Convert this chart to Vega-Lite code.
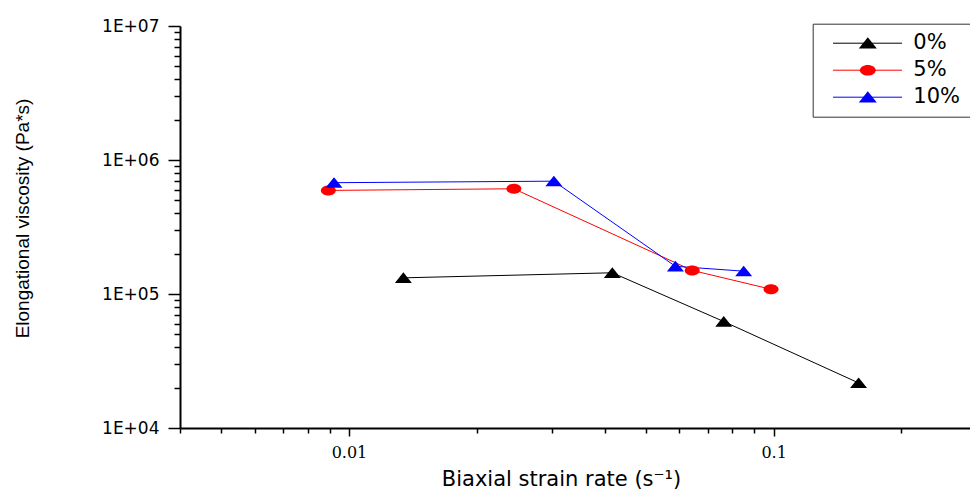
{
  "$schema": "https://vega.github.io/schema/vega-lite/v6.json",
  "width": 790,
  "height": 402,
  "autosize": "none",
  "padding": {"left": 180, "top": 26, "right": 0, "bottom": 62},
  "background": "white",
  "config": {"view": {"stroke": null}, "font": "Liberation Sans"},
  "data": {
    "values": [
      {"series": "0%", "rate": 0.01343, "viscosity": 132000},
      {"series": "0%", "rate": 0.0417, "viscosity": 144000},
      {"series": "0%", "rate": 0.0763, "viscosity": 62300},
      {"series": "0%", "rate": 0.1585, "viscosity": 21700},
      {"series": "5%", "rate": 0.00894, "viscosity": 593000},
      {"series": "5%", "rate": 0.02445, "viscosity": 610000},
      {"series": "5%", "rate": 0.0643, "viscosity": 150000},
      {"series": "5%", "rate": 0.0986, "viscosity": 108500},
      {"series": "10%", "rate": 0.00922, "viscosity": 677000},
      {"series": "10%", "rate": 0.03037, "viscosity": 695000},
      {"series": "10%", "rate": 0.0587, "viscosity": 161000},
      {"series": "10%", "rate": 0.085, "viscosity": 148000}
    ]
  },
  "encoding": {
    "x": {
      "field": "rate",
      "type": "quantitative",
      "scale": {"type": "log", "domain": [0.004, 0.29], "nice": false},
      "axis": {
        "values": [0.004, 0.005, 0.006, 0.007, 0.008, 0.009, 0.01, 0.02, 0.03, 0.04, 0.05, 0.06, 0.07, 0.08, 0.09, 0.1, 0.2],
        "labelExpr": "datum.value === 0.01 ? '0.01' : datum.value === 0.1 ? '0.1' : ''",
        "labelFont": "DejaVu Serif",
        "labelFontSize": 16,
        "labelColor": "black",
        "labelPadding": 8,
        "labelOverlap": false,
        "labelFlush": false,
        "labelBound": false,
        "tickSize": {"condition": {"test": "datum.value === 0.01 || datum.value === 0.1", "value": 8}, "value": 5},
        "tickColor": "black",
        "tickWidth": 1.5,
        "domainColor": "black",
        "domainWidth": 2,
        "grid": false,
        "title": "Biaxial strain rate (s⁻¹)",
        "titleFont": "DejaVu Sans",
        "titleFontSize": 21,
        "titleFontWeight": "normal",
        "titleColor": "black",
        "titleX": 381,
        "titleY": 57,
        "titleAlign": "center",
        "titleBaseline": "alphabetic"
      }
    },
    "y": {
      "field": "viscosity",
      "type": "quantitative",
      "scale": {"type": "log", "domain": [10000, 10000000], "nice": false},
      "axis": {
        "values": [10000, 20000, 30000, 40000, 50000, 60000, 70000, 80000, 90000, 100000, 200000, 300000, 400000, 500000, 600000, 700000, 800000, 900000, 1000000, 2000000, 3000000, 4000000, 5000000, 6000000, 7000000, 8000000, 9000000, 10000000],
        "labelExpr": "indexof([10000, 100000, 1000000, 10000000], datum.value) >= 0 ? '1E+0' + round(log(datum.value) / LN10) : ''",
        "labelFont": "DejaVu Sans",
        "labelFontSize": 17,
        "labelColor": "black",
        "labelPadding": 9,
        "labelOverlap": false,
        "labelFlush": false,
        "labelBound": false,
        "tickSize": {"condition": {"test": "indexof([10000, 100000, 1000000, 10000000], datum.value) >= 0", "value": 12}, "value": 6},
        "tickColor": "black",
        "tickWidth": 1.5,
        "domainColor": "black",
        "domainWidth": 2,
        "grid": false,
        "title": "Elongational viscosity (Pa*s)",
        "titleFont": "Liberation Sans",
        "titleFontSize": 19,
        "titleFontWeight": "normal",
        "titleColor": "black",
        "titleAngle": 270,
        "titleX": -158,
        "titleY": 192,
        "titleAlign": "center",
        "titleBaseline": "middle"
      }
    }
  },
  "layer": [
    {
      "mark": {"type": "line", "strokeWidth": 1},
      "encoding": {
        "stroke": {
          "field": "series",
          "type": "nominal",
          "sort": ["0%", "5%", "10%"],
          "scale": {"range": ["#000000", "#ff0000", "#0000ff"]},
          "legend": {
            "title": null,
            "orient": "none",
            "legendX": 632.7,
            "legendY": -2.3,
            "direction": "vertical",
            "symbolType": "M-3.83,0H3.83",
            "symbolSize": 324,
            "symbolStrokeWidth": 1,
            "symbolOffset": 35.3,
            "labelExpr": "''",
            "labelFont": "DejaVu Sans",
            "labelFontSize": 21,
            "labelColor": "black",
            "labelOffset": 100,
            "rowPadding": 5,
            "padding": 9,
            "strokeColor": "#333333"
          }
        }
      }
    },
    {
      "mark": {"type": "point", "filled": true, "opacity": 1, "size": 289, "strokeWidth": 0},
      "encoding": {
        "color": {
          "field": "series",
          "type": "nominal",
          "scale": {"domain": ["0%", "5%", "10%"], "range": ["#000000", "#ff0000", "#0000ff"]},
          "legend": {
            "title": null,
            "orient": "none",
            "legendX": 633,
            "legendY": -8.3,
            "direction": "vertical",
            "symbolSize": 324,
            "symbolOffset": 29.3,
            "labelFont": "DejaVu Sans",
            "labelFontSize": 21,
            "labelColor": "black",
            "labelOffset": 35,
            "rowPadding": 5,
            "padding": 15
          }
        },
        "shape": {
          "field": "series",
          "type": "nominal",
          "scale": {
            "domain": ["0%", "5%", "10%"],
            "range": [
              "M0,-0.65L1,0.6L-1,0.6Z",
              "M0.88,0A0.88,0.59 0 1,1 -0.88,0A0.88,0.59 0 1,1 0.88,0Z",
              "M0,-0.65L1,0.6L-1,0.6Z"
            ]
          },
          "legend": null
        }
      }
    }
  ]
}
